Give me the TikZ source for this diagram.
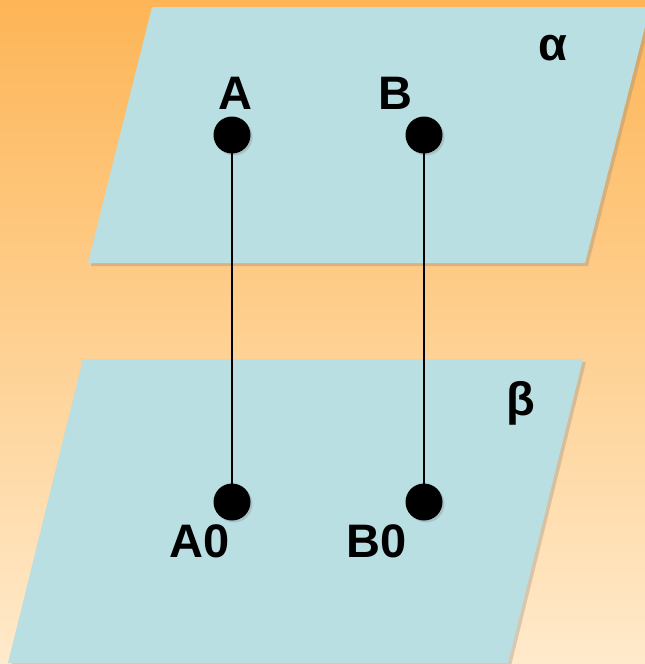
\documentclass[tikz,border=0pt]{standalone}
\usepackage{fontspec}
\setmainfont{Liberation Sans}
\usetikzlibrary{positioning}
\usetikzlibrary{shadows}

\definecolor{bgtop}{RGB}{253,181,86}
\definecolor{bgbot}{RGB}{255,234,203}
\definecolor{plane}{RGB}{185,223,227}

\begin{document}
\begin{tikzpicture}[x=1pt, y=-1pt, node distance = 192pt, on grid,
	point/.style = {circle, fill = black, minimum width = 37pt, inner sep = 0pt,
		drop shadow = {shadow xshift = 2pt, shadow yshift = -2pt, opacity = 0.3}},
	planebox/.style = {fill = plane,
		drop shadow = {shadow xshift = 3pt, shadow yshift = -3pt, opacity = 0.3}},
	lbl/.style = {font = \fontsize{47}{50}\selectfont\bfseries, inner sep = 0pt}]
	\useasboundingbox (0,0) rectangle (645,664);
	\shade[top color = bgtop, bottom color = bgbot] (0,0) rectangle (645,664);
	% planes alpha and beta
	\path[planebox] (152,7) -- (650,7) -- (585,263) -- (88,263) -- cycle;
	\path[planebox] (83,359) -- (583,359) -- (508,663) -- (8,663) -- cycle;
	\node[lbl] (alpha) at (553,48) {α};
	\node[lbl] (beta) at (521,403) {β};
	% points
	\node[point] (A) at (232,135) {};
	\node[point] (B) [right = of A] {};
	\node[point] (A0) [node distance = 367pt, below = of A] {};
	\node[point] (B0) [node distance = 367pt, below = of B] {};
	\draw[line width = 2pt] (A.center) -- (A0.center);
	\draw[line width = 2pt] (B.center) -- (B0.center);
	\node[lbl] (labA) at (235,93) {A};
	\node[lbl] (labB) at (395,93) {B};
	\node[lbl] (labA0) at (200,541) {A0};
	\node[lbl] (labB0) at (377,541) {B0};
\end{tikzpicture}
\end{document}
